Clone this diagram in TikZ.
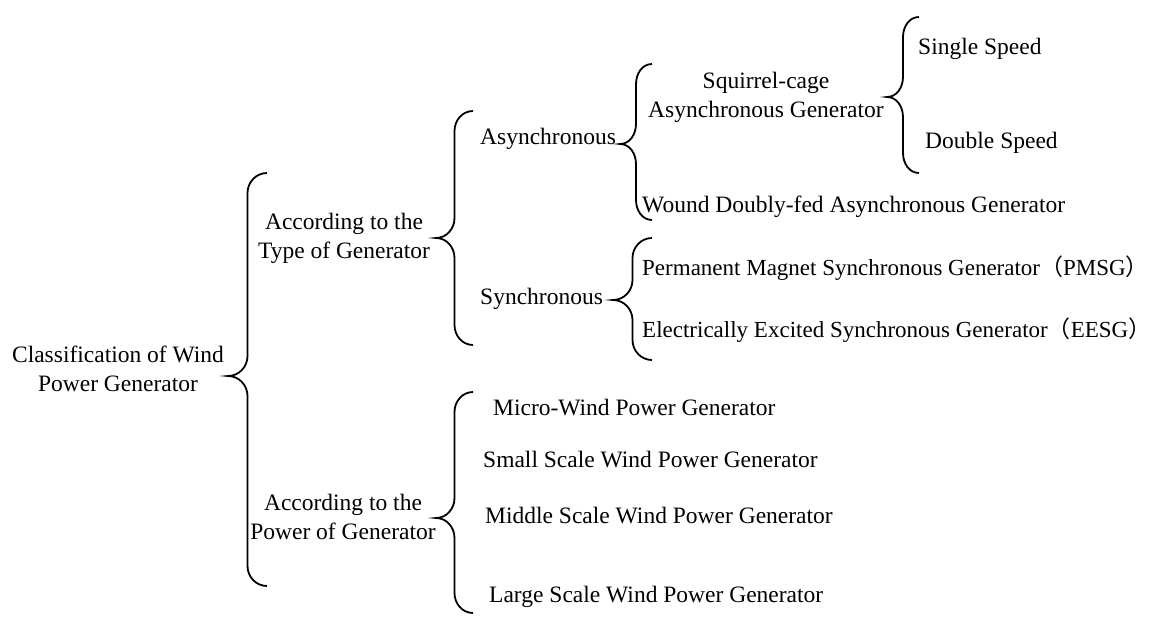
\documentclass[tikz,border=0pt]{standalone}
\usepackage{fontspec}
\setmainfont{Liberation Serif}
\newfontfamily\cjk{Noto Sans CJK SC}
\usetikzlibrary{calc}
\tikzset{
  every node/.style={font=\fontsize{23.5}{29}\selectfont, inner sep=0pt},
  item/.style={anchor=base west},
  longitem/.style={item, font=\fontsize{23}{29}\selectfont},
  grp/.style={align=center},
  bracepen/.style={line width=1.8pt},
}
% curly brace: top end, tip, bottom end, half width
\newcommand{\curly}[4]{%
  \draw[bracepen] (#1) to[out=180,in=90] ++(-#4,20)
    -- ($(#2)+(#4,-20)$) to[out=-90,in=0] (#2)
    to[out=0,in=90] ($(#2)+(#4,20)$)
    -- ($(#3)+(-#4,-20)$) to[out=-90,in=180] (#3);}
% full-width brackets
\newcommand{\lpar}{{\cjk （}}
\newcommand{\rpar}{\makebox[0.45em][l]{\cjk ）}}
\begin{document}
\begin{tikzpicture}[x=1pt,y=-1pt]
    \useasboundingbox (0,0) rectangle (1156,623);
    % classes
    \node[grp] (root) at (118,369) {Classification of Wind\\Power Generator};
    \node[grp] (type) at (344,238) {According to the\\Type of Generator};
    \node[grp] (power) at (343,517) {According to the\\Power of Generator};
    \node[item] (async) at (480,145) {Asynchronous};
    \node[item] (sync) at (480,304) {Synchronous};
    \node[grp] (squirrel) at (766,97) {Squirrel-cage\\Asynchronous Generator};
    \node[item] (wound) at (642,212) {Wound Doubly-fed Asynchronous Generator};
    \node[longitem] (pmsg) at (642,275) {Permanent Magnet Synchronous Generator\lpar PMSG\rpar};
    \node[longitem] (eesg) at (642,337) {Electrically Excited Synchronous Generator\lpar EESG\rpar};
    \node[item] (single) at (918,55) {Single Speed};
    \node[item] (double) at (925,148) {Double Speed};
    \node[item] (micro) at (493,415) {Micro-Wind Power Generator};
    \node[item] (small) at (483,467) {Small Scale Wind Power Generator};
    \node[item] (middle) at (485,523) {Middle Scale Wind Power Generator};
    \node[item] (large) at (489,602) {Large Scale Wind Power Generator};
    % brace ends and tips
    \coordinate (rootT) at (267,173);  \coordinate (rootP) at (228,376);  \coordinate (rootB) at (267,586);
    \coordinate (typeT) at (473,111);  \coordinate (typeP) at (436,238);  \coordinate (typeB) at (473,345);
    \coordinate (powerT) at (473,392); \coordinate (powerP) at (436,518); \coordinate (powerB) at (473,613);
    \coordinate (asyncT) at (652,64);  \coordinate (asyncP) at (620,144); \coordinate (asyncB) at (652,220);
    \coordinate (syncT) at (652,238);  \coordinate (syncP) at (613,300);  \coordinate (syncB) at (652,360);
    \coordinate (sqT) at (919,17);     \coordinate (sqP) at (887,97);     \coordinate (sqB) at (919,173);
    % braces
    \curly{rootT}{rootP}{rootB}{19.5}
    \curly{typeT}{typeP}{typeB}{18.5}
    \curly{powerT}{powerP}{powerB}{18.5}
    \curly{asyncT}{asyncP}{asyncB}{16}
    \curly{syncT}{syncP}{syncB}{19.5}
    \curly{sqT}{sqP}{sqB}{16}
\end{tikzpicture}
\end{document}
